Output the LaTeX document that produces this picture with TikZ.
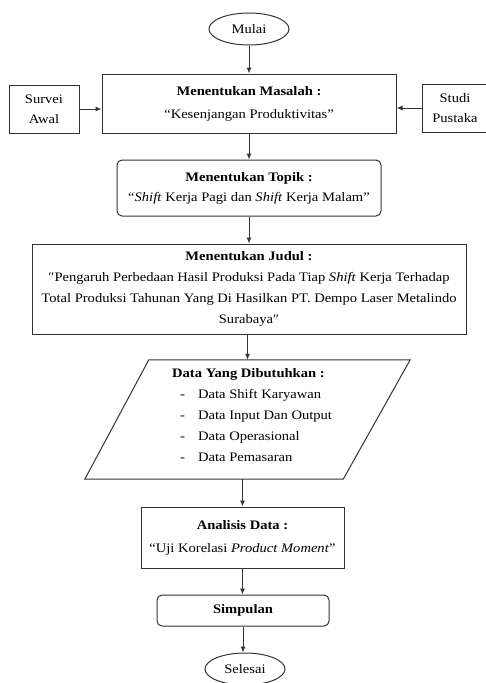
\documentclass[tikz,border=0pt]{standalone}
\usepackage{fontspec}
\setmainfont[FakeStretch=1.12]{Liberation Serif}
\usetikzlibrary{shapes.geometric,arrows.meta,calc}
\begin{document}
\begin{tikzpicture}[x=1pt,y=-1pt,
  line/.style={draw=black!80, line width=1pt},
  box/.style={line, rectangle, inner sep=0pt, align=center},
  rbox/.style={box, rounded corners=5pt},
  oval/.style={line, ellipse, inner sep=0pt, minimum width=80pt, minimum height=32pt},
  arr/.style={line, -{Latex[length=6pt,width=5pt]}},
  txt/.style={font=\fontsize{13}{21}\selectfont},
  txtb/.style={font=\fontsize{13}{23}\selectfont},
  txts/.style={font=\fontsize{13}{20}\selectfont}
]
\useasboundingbox (0,0) rectangle (485,683);

\node[oval, txt] (mulai) at (249,29) {Mulai};
\node[box, txtb, minimum width=294pt, minimum height=59pt] (masalah) at (249,103.5)
  {\textbf{Menentukan Masalah :}\\“Kesenjangan Produktivitas”};
\node[box, txts, minimum width=70pt, minimum height=48pt] (survei) at (44,109) {Survei\\Awal};
\node[box, txts, minimum width=66pt, minimum height=48pt] (studi) at (455,108) {Studi\\Pustaka};
\node[rbox, txts, minimum width=264pt, minimum height=56pt] (topik) at (249,188)
  {\textbf{Menentukan Topik :}\\“\textit{Shift} Kerja Pagi dan \textit{Shift} Kerja Malam”};
\node[box, txt, minimum width=434pt, minimum height=90pt] (judul) at (249,289)
  {\textbf{Menentukan Judul :}\\
   ″Pengaruh Perbedaan Hasil Produksi Pada Tiap \textit{Shift} Kerja Terhadap\\
   Total Produksi Tahunan Yang Di Hasilkan PT. Dempo Laser Metalindo\\
   Surabaya″};
\node[inner sep=0pt, minimum width=325pt, minimum height=119pt] (data) at (247.5,419.5) {};
\draw[line] ([xshift=64pt]data.north west) -- (data.north east)
  -- ([xshift=-67pt]data.south east) -- (data.south west) -- cycle;
\node[txt, anchor=north west, align=left, inner sep=0pt] (datatxt) at (172,368)
  {\textbf{Data Yang Dibutuhkan :}\\
   \hspace*{8pt}\makebox[18pt][l]{-}Data Shift Karyawan\\
   \hspace*{8pt}\makebox[18pt][l]{-}Data Input Dan Output\\
   \hspace*{8pt}\makebox[18pt][l]{-}Data Operasional\\
   \hspace*{8pt}\makebox[18pt][l]{-}Data Pemasaran};
\node[box, txtb, minimum width=203pt, minimum height=61pt] (analisis) at (242.5,537.5)
  {\textbf{Analisis Data :}\\“Uji Korelasi \textit{Product Moment}”};
\node[rbox, txt, minimum width=172pt, minimum height=31pt] (simpulan) at (243,610.5)
  {\textbf{Simpulan}};
\node[oval, txt] (selesai) at (245,669) {Selesai};

\draw[arr] (mulai) -- (masalah);
\draw[arr] (survei.east) -- (survei.east -| masalah.west);
\draw[arr] (studi.west) -- (studi.west -| masalah.east);
\draw[arr] (masalah) -- (topik);
\draw[arr] (topik) -- (judul);
\draw[arr] (judul.south -| data.north) -- (data.north);
\draw[arr] (data.south -| analisis.north) -- (analisis.north);
\draw[arr] (analisis.south) -- (analisis.south |- simpulan.north);
\draw[arr] (simpulan.south) -- (simpulan.south |- selesai.north);
\end{tikzpicture}
\end{document}
